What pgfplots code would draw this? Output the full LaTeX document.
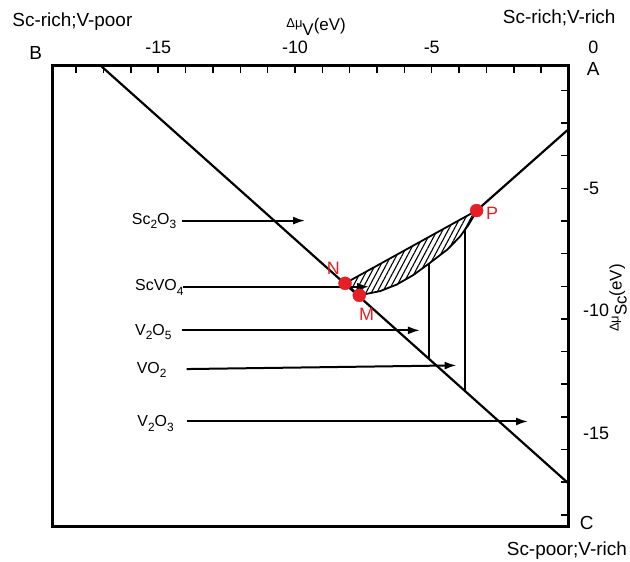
\documentclass[border=0pt]{standalone}
\usepackage{fontspec}
\setmainfont{Liberation Sans}
\usepackage{pgfplots}
\pgfplotsset{compat=1.18}
\usetikzlibrary{arrows.meta,patterns.meta}
\definecolor{ptred}{RGB}{232,30,38}
\newcommand\sub[1]{\raisebox{-4.5bp}{\fontsize{12}{12}\selectfont #1}}
\begin{document}
\begin{tikzpicture}
\begin{axis}[
 scale only axis, width=516.5bp, height=460.9bp,
 xmin=-18.88, xmax=0, ymin=-18.81, ymax=0,
 clip mode=individual,
 axis line style={line width=3bp},
 tick align=inside,
 xtick pos=upper, ytick pos=upper,
 xticklabel pos=upper, yticklabel pos=upper,
 xtick={-15,-10,-5}, xticklabels={-15,-10,-5},
 ytick={-5,-10,-15}, yticklabels={-5,-10,-15},
 minor xtick={-18,-17,-16,-15,-14,-13,-12,-11,-10,-9,-8,-7,-6,-5,-4,-3,-2,-1},
 minor ytick={-1,-2.333,-3.667,-5,-6.333,-7.667,-9,-10.333,-11.667,-13,-14.333,-15.667,-17,-18.333},
 major tick length=0pt, minor tick length=7bp,
 xtick style={black, line width=1.5bp},
 ytick style={black, line width=1.5bp},
 xticklabel shift=11.8bp, yticklabel shift=14.5bp,
 xticklabel style={font=\fontsize{18}{18}\selectfont, inner sep=0pt},
 yticklabel style={font=\fontsize{18}{18}\selectfont, inner sep=0pt},
]
% hatched region
\addplot[line width=1.8bp, pattern={Lines[angle=62,distance=4.8bp,line width=1.1bp]}] coordinates {(-8.17,-8.88) (-3.36,-5.91) (-3.42,-6.05) (-3.66,-6.50) (-3.97,-6.98) (-4.45,-7.52) (-5.06,-8.04) (-5.67,-8.54) (-6.28,-8.93) (-6.89,-9.20) (-7.65,-9.37)} -- cycle;
% boundary lines
\addplot[line width=2.2bp] coordinates {(-17.1,0) (0,-17.05)};
\addplot[line width=2.2bp] coordinates {(-3.36,-5.91) (0,-2.59)};
\addplot[line width=2bp] coordinates {(-5.10,-8.07) (-5.10,-11.95)};
\addplot[line width=2bp] coordinates {(-3.78,-6.69) (-3.78,-13.27)};
% arrows
\addplot[line width=2bp, -{Latex[length=12bp,width=8bp]}] coordinates {(-14.14,-6.32) (-9.63,-6.32)};
\addplot[line width=2bp, -{Latex[length=12bp,width=8bp]}] coordinates {(-14.08,-9.02) (-7.29,-9.02)};
\addplot[line width=2bp, -{Latex[length=12bp,width=8bp]}] coordinates {(-14.14,-10.80) (-5.43,-10.80)};
\addplot[line width=2bp, -{Latex[length=12bp,width=8bp]}] coordinates {(-13.96,-12.38) (-4.09,-12.23)};
\addplot[line width=2bp, -{Latex[length=12bp,width=8bp]}] coordinates {(-13.96,-14.52) (-1.48,-14.52)};
% points
\addplot[only marks, mark=*, mark size=6.5bp, ptred, mark options={draw=ptred, fill=ptred}, clip=false] coordinates {(-8.17,-8.88) (-7.65,-9.37) (-3.36,-5.91)};
% point labels
\node[ptred, font=\fontsize{18}{18}\selectfont] at (axis cs:-8.60,-8.27) {N};
\node[ptred, font=\fontsize{18}{18}\selectfont] at (axis cs:-7.38,-10.13) {M};
\node[ptred, font=\fontsize{18}{18}\selectfont] at (axis cs:-2.79,-6.02) {P};
% species labels
\node[anchor=base west, inner sep=0pt, font=\fontsize{16}{16}\selectfont] at (axis cs:-15.97,-6.47) {Sc\sub{2}O\sub{3}};
\node[anchor=base west, inner sep=0pt, font=\fontsize{16}{16}\selectfont] at (axis cs:-15.85,-9.19) {ScVO\sub{4}};
\node[anchor=base west, inner sep=0pt, font=\fontsize{16}{16}\selectfont] at (axis cs:-15.85,-10.99) {V\sub{2}O\sub{5}};
\node[anchor=base west, inner sep=0pt, font=\fontsize{16}{16}\selectfont] at (axis cs:-15.79,-12.55) {VO\sub{2}};
\node[anchor=base west, inner sep=0pt, font=\fontsize{16}{16}\selectfont] at (axis cs:-15.77,-14.73) {V\sub{2}O\sub{3}};
% corner labels
\node[anchor=base, inner sep=0pt, font=\fontsize{19}{19}\selectfont] at (axis cs:-18.14,1.60) {Sc-rich;V-poor};
\node[anchor=base, inner sep=0pt, font=\fontsize{19}{19}\selectfont] at (axis cs:-0.34,1.73) {Sc-rich;V-rich};
\node[anchor=base, inner sep=0pt, font=\fontsize{19}{19}\selectfont] at (axis cs:-0.06,-20.0) {Sc-poor;V-rich};
\node[anchor=base, inner sep=0pt, font=\fontsize{19}{19}\selectfont] at (axis cs:-19.48,0.237) {B};
\node[anchor=base, inner sep=0pt, font=\fontsize{19}{19}\selectfont] at (axis cs:0.907,-0.376) {A};
\node[anchor=base, inner sep=0pt, font=\fontsize{19}{19}\selectfont] at (axis cs:0.665,-18.95) {C};
\node[anchor=base, inner sep=0pt, font=\fontsize{18}{18}\selectfont] at (axis cs:0.907,0.51) {0};
% axis titles
\node[anchor=base, inner sep=0pt, font=\fontsize{17}{17}\selectfont] at (axis cs:-9.23,1.46) {\raisebox{3bp}{\fontsize{13}{13}\selectfont Δμ}\raisebox{-5bp}{V}(eV)};
\node[rotate=90, inner sep=0pt, font=\fontsize{17}{17}\selectfont] at (axis cs:1.81,-9.48) {\raisebox{3bp}{\fontsize{13}{13}\selectfont Δμ}\raisebox{-5bp}{Sc}(eV)};
\coordinate (bbl) at (axis cs:-20.786,-20.253);
\coordinate (btr) at (axis cs:2.249,2.686);
\end{axis}
\pgfresetboundingbox
\useasboundingbox (bbl) rectangle (btr);
\end{tikzpicture}
\end{document}
